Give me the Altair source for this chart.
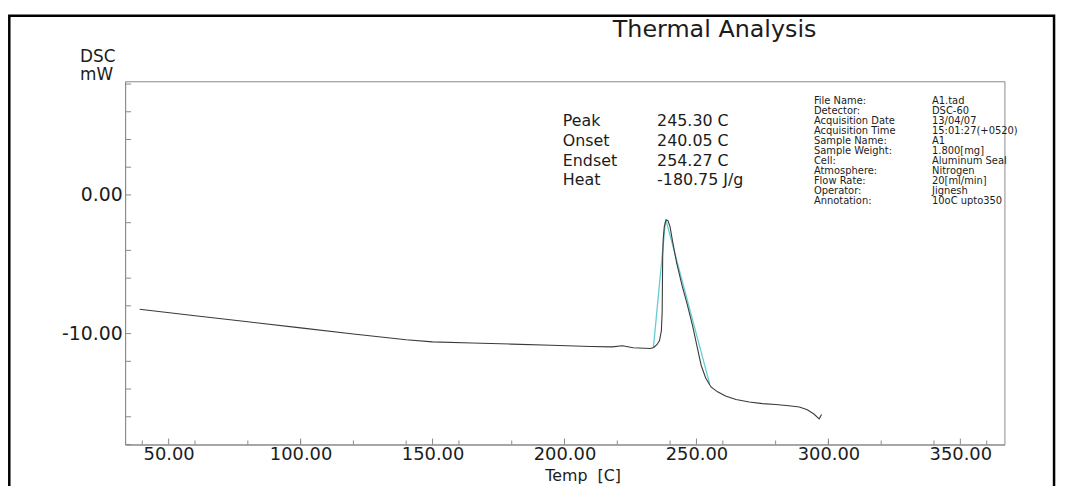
import altair as alt
import pandas as pd

# ---------------- data ----------------
chart_title = "Thermal Analysis"
x_title = "Temp\u00a0 [C]"
y_title = ["DSC", "mW"]

x_label_values = [50, 100, 150, 200, 250, 300, 350]
x_minor_ticks = [40, 60, 80, 100, 120, 140, 160, 180, 200, 220, 240, 260, 280, 300, 320, 340, 360]
y_label_values = [0, -10]
y_ticks = [-18, -16, -14, -12, -10, -8, -6, -4, -2, 0, 2, 4, 6, 8]

x_domain = [33.5, 366.7]
y_domain = [-18.0, 8.2]

temp = [39.0, 60.0, 80.0, 100.0, 120.0, 140.0, 150.0, 165.0, 180.0, 195.0, 210.0, 218.0, 222.0, 226.0, 232.5,
        233.8, 235.0, 236.0, 236.7, 237.0, 237.1, 237.2, 237.4, 237.8, 238.3, 238.7, 239.2, 240.0, 241.0,
        242.5, 244.5, 246.5, 248.5, 250.3, 251.8, 253.5, 255.5, 258.0, 261.0, 265.0, 270.0, 275.0, 280.0,
        285.0, 289.0, 292.0, 294.5, 296.5, 297.4]
dsc = [-8.24, -8.71, -9.15, -9.59, -10.03, -10.45, -10.60, -10.68, -10.76, -10.84, -10.93, -10.96, -10.88, -11.02, -11.08,
       -11.0, -10.8, -10.5, -9.8, -8.5, -6.5, -4.5, -3.2, -2.3, -1.9, -1.8, -1.85, -2.3, -3.4,
       -4.9, -6.5, -7.9, -9.4, -11.0, -12.3, -13.2, -13.85, -14.2, -14.5, -14.75, -14.93, -15.05, -15.12,
       -15.2, -15.3, -15.5, -15.8, -16.15, -15.83]

tangent_temp = [233.7, 238.35, 255.0]
tangent_dsc = [-10.98, -1.74, -13.63]

result_labels = ["Peak", "Onset", "Endset", "Heat"]
result_values = ["245.30 C", "240.05 C", "254.27 C", "-180.75 J/g"]

info_labels = ["File Name:", "Detector:", "Acquisition Date", "Acquisition Time", "Sample Name:",
               "Sample Weight:", "Cell:", "Atmosphere:", "Flow Rate:", "Operator:", "Annotation:"]
info_values = ["A1.tad", "DSC-60", "13/04/07", "15:01:27(+0520)", "A1", "1.800[mg]",
               "Aluminum Seal", "Nitrogen", "20[ml/min]", "Jignesh", "10oC upto350"]

# ---------------- styling ----------------
FONT = "DejaVu Sans"
TEXT = "#1c1c1c"
AXIS = "#8a8a8a"
CURVE = "#3a3a3a"
CYAN = "#63cdd5"

W, H = 886, 366

line_df = pd.DataFrame({"temp": temp, "dsc": dsc})
tan_df = pd.DataFrame({"temp": tangent_temp, "dsc": tangent_dsc})
one = pd.DataFrame({"k": [0]})

x_enc = alt.X(
    "temp:Q",
    scale=alt.Scale(domain=x_domain, nice=False, zero=False),
    axis=alt.Axis(
        values=x_label_values, format=".2f", ticks=False, grid=False,
        title=x_title, titleX=461, titleY=36, titleBaseline="alphabetic", titleAlign="center",
        titleFontSize=16, titleFont=FONT, titleFontWeight="normal", titleColor=TEXT,
        labelFontSize=18, labelFont=FONT, labelColor=TEXT, labelPadding=1,
        labelFlush=False, labelOverlap=False, domainColor=AXIS,
    ),
)
y_enc = alt.Y(
    "dsc:Q",
    scale=alt.Scale(domain=y_domain, nice=False, zero=False),
    axis=alt.Axis(
        values=y_label_values,
        labelExpr="replace(format(datum.value, '.2f'), '\u2212', '-')",
        ticks=False, grid=False,
        title=y_title, titleAngle=0, titleAlign="left", titleBaseline="alphabetic",
        titleX=-46, titleY=-20, titleLineHeight=18.5, titleFontSize=17, titleFont=FONT,
        titleFontWeight="normal", titleColor=TEXT,
        labelFontSize=19, labelFont=FONT, labelColor=TEXT, labelPadding=3,
        labelFlush=False, labelOverlap=False, domainColor=AXIS,
    ),
)

frame = alt.Chart(one).mark_rect(filled=False, stroke="black", strokeWidth=2.5).encode(
    x=alt.value(-116.7), x2=alt.value(936), y=alt.value(-66), y2=alt.value(440)
)

tangent = alt.Chart(tan_df).mark_line(color=CYAN, strokeWidth=1.3).encode(x=x_enc, y=y_enc)
curve = alt.Chart(line_df).mark_line(color=CURVE, strokeWidth=1.1).encode(x="temp:Q", y="dsc:Q")

xt_minor = alt.Chart(pd.DataFrame({"temp": x_minor_ticks})).mark_rule(color=AXIS).encode(
    x="temp:Q", y=alt.value(H), y2=alt.value(H - 4)
)
xt_major = alt.Chart(pd.DataFrame({"temp": x_label_values})).mark_rule(color=AXIS).encode(
    x="temp:Q", y=alt.value(H), y2=alt.value(H - 6)
)
yt = alt.Chart(pd.DataFrame({"dsc": y_ticks})).mark_rule(color=AXIS).encode(
    y="dsc:Q", x=alt.value(0), x2=alt.value(6)
)

def text_block(lines, x, y, size, line_height, align="left"):
    return alt.Chart(one).mark_text(
        text=lines, font=FONT, fontSize=size, color=TEXT, align=align,
        baseline="alphabetic", lineHeight=line_height,
    ).encode(x=alt.value(x), y=alt.value(y))

title_t = text_block(chart_title, 594, -45, 24, 24, align="center")
res_l = text_block(result_labels, 441, 45, 16, 20)
res_v = text_block(result_values, 536, 45, 16, 20)
info_l = text_block(info_labels, 694, 23, 10, 10.1)
info_v = text_block(info_values, 813, 23, 10, 10.1)

chart = alt.layer(
    frame, tangent, curve, xt_minor, xt_major, yt, title_t, res_l, res_v, info_l, info_v
).properties(
    width=W, height=H,
    autosize=alt.AutoSizeParams(type="none"),
    padding={"left": 118, "top": 72, "right": 57, "bottom": 40},
    background="white",
).configure_view(stroke=AXIS, strokeWidth=1)

chart.save("out.html", embed_options={"renderer": "svg", "actions": False})
